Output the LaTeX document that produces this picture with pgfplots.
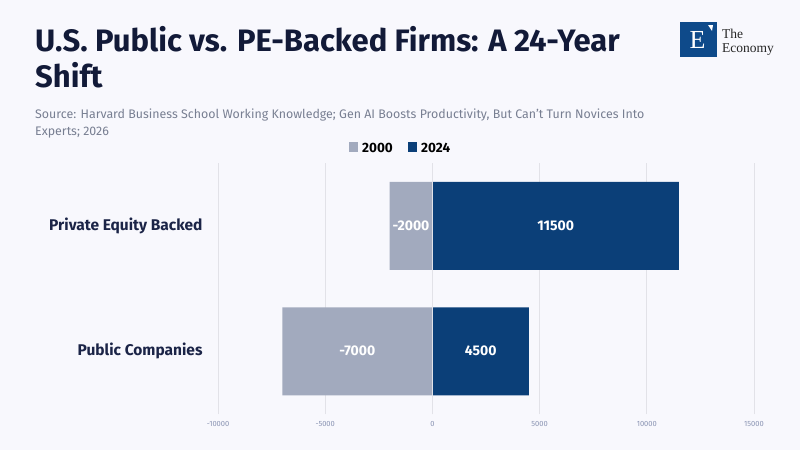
\documentclass[border=0pt]{standalone}
\usepackage{pgfplots}
\pgfplotsset{compat=1.18}
\usepackage{pgfplotstable}
\usepackage{fontspec}
\setmainfont{Fira Sans}
\newfontfamily\seriffont{Liberation Serif}

\definecolor{bg}{HTML}{F8F8FD}
\definecolor{titlec}{HTML}{121A38}
\definecolor{subc}{HTML}{787F92}
\definecolor{catc}{HTML}{1B2447}
\definecolor{tickc}{HTML}{8A94B3}
\definecolor{gridc}{HTML}{E2E2E8}
\definecolor{cold}{HTML}{A2AABE}
\definecolor{cnew}{HTML}{0B3F78}
\definecolor{logoc}{HTML}{0E4A8A}

% 2000 values
\pgfplotstableread{
y v
0 -7000
1 -2000
}\tabold
% 2024 values
\pgfplotstableread{
y v
0 4500
1 11500
}\tabnew

\begin{document}
\begin{tikzpicture}
\fill[bg] (0,0) rectangle (800bp,-450bp);

% title and source
\node[anchor=base west, inner sep=0, text=titlec, font=\fontsize{31bp}{36bp}\selectfont\bfseries] at (35bp,-51bp) {U.S. Public vs. PE-Backed Firms: A 24-Year};
\node[anchor=base west, inner sep=0, text=titlec, font=\fontsize{31bp}{36bp}\selectfont\bfseries] at (35bp,-87bp) {Shift};
\node[anchor=base west, inner sep=0, text=subc, font=\fontsize{12.4bp}{15bp}\selectfont] at (35bp,-118bp) {Source: Harvard Business School Working Knowledge; Gen AI Boosts Productivity, But Can't Turn Novices Into};
\node[anchor=base west, inner sep=0, text=subc, font=\fontsize{12.4bp}{15bp}\selectfont] at (35bp,-135bp) {Experts; 2026};

% logo
\fill[logoc] (680bp,-22bp) rectangle (717bp,-57bp);
\node[text=white, font=\seriffont\fontsize{26bp}{26bp}\selectfont, inner sep=0] at (697.5bp,-40bp) {E};
\fill[white] (708bp,-25bp) -- (713bp,-25bp) -- (712bp,-31bp) -- cycle;
\node[anchor=base west, inner sep=0, text=black!85, font=\seriffont\fontsize{13.5bp}{13bp}\selectfont] at (722bp,-38bp) {The};
\node[anchor=base west, inner sep=0, text=black!85, font=\seriffont\fontsize{13.5bp}{13bp}\selectfont] at (722bp,-52bp) {Economy};

% legend
\fill[cold] (349bp,-142bp) rectangle (358bp,-152bp);
\node[anchor=base west, inner sep=0, text=black, font=\fontsize{13.5bp}{15bp}\selectfont\bfseries] at (362bp,-152bp) {2000};
\fill[cnew] (408bp,-142bp) rectangle (417bp,-152bp);
\node[anchor=base west, inner sep=0, text=black, font=\fontsize{13.5bp}{15bp}\selectfont\bfseries] at (421bp,-152bp) {2024};

\begin{axis}[
    at={(218bp,-414bp)}, anchor=south west,
    scale only axis, width=536bp, height=251bp,
    xmin=-10000, xmax=15000, ymin=-0.5, ymax=1.5,
    xtick={-10000,-5000,0,5000,10000,15000},
    scaled x ticks=false,
    ytick={0,1},
    yticklabels={Public Companies, Private Equity Backed},
    x tick label style={/pgf/number format/1000 sep={}, /pgf/number format/assume math mode=true,
        font=\fontsize{7.5bp}{9bp}\selectfont, text=tickc, yshift=-4bp},
    y tick label style={font=\fontsize{15.5bp}{17bp}\selectfont\bfseries, text=catc, xshift=-12bp},
    axis line style={draw=none},
    major tick length=0pt,
    xmajorgrids, grid style={gridc, line width=0.8pt},
    clip=false,
]
\addplot[xbar, bar width=88bp, bar shift=0pt, fill=cold, draw=none] table[x=v, y=y] {\tabold};
\addplot[xbar, bar width=88bp, bar shift=0pt, fill=cnew, draw=none] table[x=v, y=y] {\tabnew};
\draw[gridc, line width=0.8pt] (axis cs:0,-0.5) -- (axis cs:0,1.5);
% value labels, centred in each bar
\addplot[only marks, mark=none, point meta=explicit symbolic, nodes near coords,
    nodes near coords style={anchor=center, text=white, font=\fontsize{14bp}{16bp}\selectfont\bfseries}]
    table[x expr=\thisrow{v}/2, y=y, meta=v] {\tabold};
\addplot[only marks, mark=none, point meta=explicit symbolic, nodes near coords,
    nodes near coords style={anchor=center, text=white, font=\fontsize{14bp}{16bp}\selectfont\bfseries}]
    table[x expr=\thisrow{v}/2, y=y, meta=v] {\tabnew};
\end{axis}
\end{tikzpicture}
\end{document}
